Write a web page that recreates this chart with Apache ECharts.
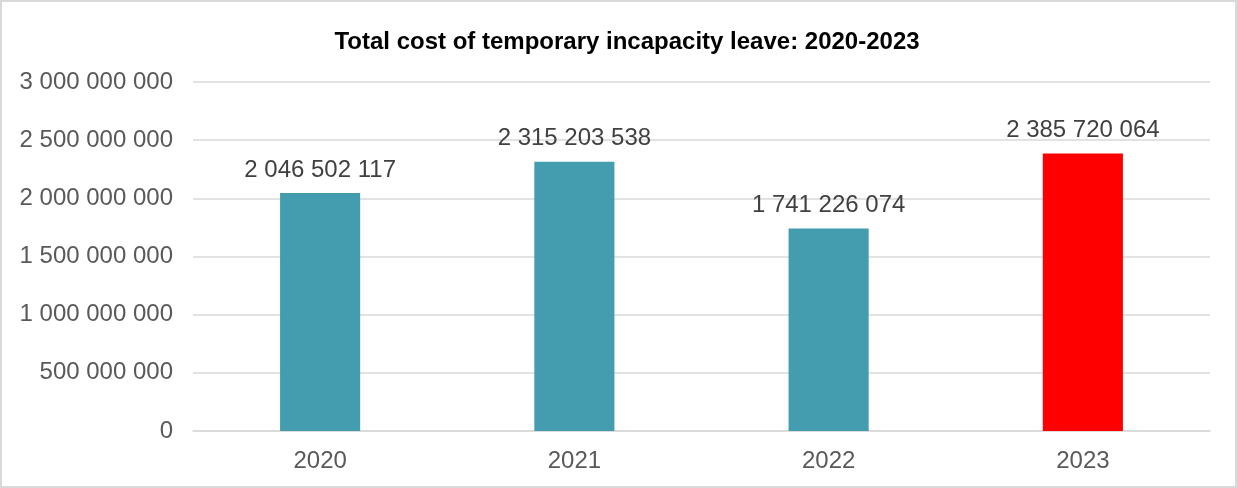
<!DOCTYPE html>
<html><head><meta charset="utf-8">
<script src="https://cdn.jsdelivr.net/npm/echarts@6/dist/echarts.min.js"></script>
<style>
html,body{margin:0;padding:0;background:#fff;}
#c{width:1237px;height:488px;box-sizing:border-box;border:2px solid #d9d9d9;}
</style></head><body>
<div id="c"></div>
<script>
const categories = ['2020','2021','2022','2023'];
const values = [2046502117, 2315203538, 1741226074, 2385720064];
const barColors = ['#439dae','#439dae','#439dae','#ff0000'];
const yTicks = [0, 500000000, 1000000000, 1500000000, 2000000000, 2500000000, 3000000000];

function fmt(v){ return String(v).replace(/\B(?=(\d{3})+(?!\d))/g,' '); }

const chart = echarts.init(document.getElementById('c'), null, {renderer:'canvas'});
chart.setOption({
  animation:false,
  title:{text:'Total cost of temporary incapacity leave: 2020-2023', left:620, textAlign:'center', top:23,
    textStyle:{fontFamily:'Liberation Sans, Arial', fontWeight:'bold', fontSize:24, color:'#000'}},
  grid:{left:191, right:25, top:80, bottom:55, containLabel:false},
  xAxis:{type:'category', data:categories,
    axisLine:{lineStyle:{color:'#d9d9d9', width:1.5}}, axisTick:{show:false},
    axisLabel:{fontFamily:'Liberation Sans, Arial', fontSize:24, color:'#595959', margin:18}},
  yAxis:{type:'value', min:yTicks[0], max:yTicks[yTicks.length-1], interval:500000000,
    splitLine:{lineStyle:{color:'#d9d9d9', width:1.5}}, axisLine:{show:false}, axisTick:{show:false},
    axisLabel:{fontFamily:'Liberation Sans, Arial', fontSize:24, color:'#595959', margin:20, formatter:fmt}},
  series:[{type:'bar', barWidth:'31.5%',
    data: values.map((v,i)=>({value:v, itemStyle:{color:barColors[i]}})),
    label:{show:true, position:'top', distance:11, fontFamily:'Liberation Sans, Arial', fontSize:24, color:'#404040', formatter:p=>fmt(p.value)}
  }]
});
</script></body></html>
